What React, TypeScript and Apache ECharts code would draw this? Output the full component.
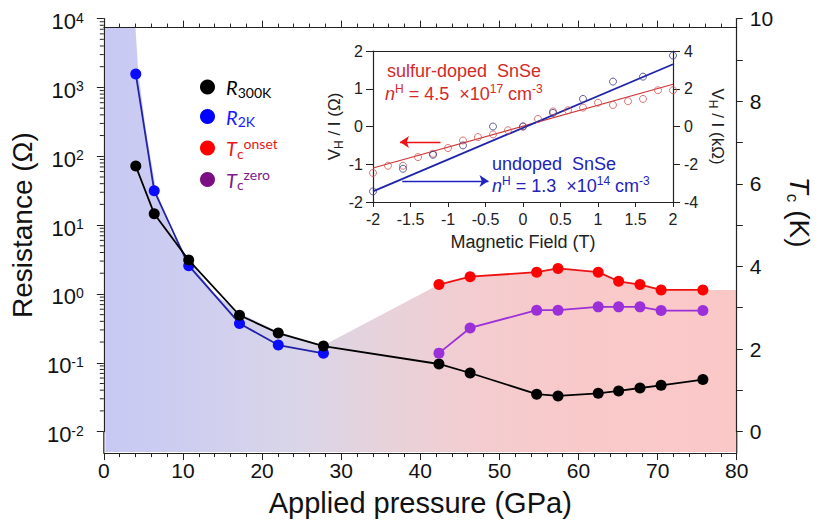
import React, { useEffect, useRef } from "react";
import * as echarts from "echarts";

// ---------- main panel data ----------
const pressure = [4.04, 6.37, 10.73, 17.15, 22.05, 27.76, 42.36, 46.3, 54.71, 57.41, 62.49, 65.07, 67.77, 70.44, 75.72];
const r300K = [72, 14.6, 3.1, 0.49, 0.27, 0.175, 0.096, 0.071, 0.035, 0.033, 0.036, 0.039, 0.043, 0.047, 0.057];
const r2KPressure = [4.04, 6.37, 10.73, 17.15, 22.05, 27.76];
const r2K = [1570, 31.6, 2.57, 0.373, 0.181, 0.137];
const tcPressure = [42.36, 46.3, 54.71, 57.41, 62.49, 65.07, 67.77, 70.44, 75.72];
const tcOnset = [3.56, 3.75, 3.86, 3.95, 3.86, 3.64, 3.56, 3.43, 3.43];
const tcZero = [1.9, 2.51, 2.94, 2.94, 3.02, 3.02, 3.02, 2.93, 2.93];

// phase-region boundary (insulator/metal part, in Ω) and superconducting dome end (in K)
const insulatorEdge: [number, number][] = [
  [0.2, 7400], [4.0, 7400], [4.35, 1700], [5.3, 250], [6.6, 33], [8.5, 8], [10.9, 2.9],
  [14, 1.0], [17.3, 0.52], [22.1, 0.28], [27.8, 0.18],
];
const domeEnd = [80, 3.43];

const xTicks = [0, 80, 10];
const logMinorTicks: number[] = [];
for (let e = -2; e < 4; e++) for (let m = 2; m <= 9; m++) logMinorTicks.push(m * Math.pow(10, e));

// ---------- inset data ----------
const fieldSulfur = [-2, -1.8, -1.6, -1.4, -1.2, -1, -0.8, -0.6, -0.4, -0.2, 0, 0.2, 0.4, 0.6, 0.8, 1, 1.2, 1.4, 1.6, 1.8, 2];
const vhSulfur = [-1.23, -1.04, -1.04, -0.81, -0.72, -0.57, -0.37, -0.28, -0.21, -0.1, 0, 0.2, 0.4, 0.43, 0.5, 0.63, 0.57, 0.67, 0.73, 0.96, 0.96];
const fieldUndoped = [-2, -1.6, -1.2, -0.8, -0.4, 0, 0.4, 0.8, 1.2, 1.6, 2];
const vhUndoped = [-3.44, -2.24, -1.5, -1.0, 0, 0, 0.72, 1.46, 2.38, 2.64, 3.76];
const fitSulfur = [[-2, -1.1], [2, 1.12]];
const fitUndoped = [[-2, -3.44], [2, 3.3]];
const arrowSulfur = [[-1.1, -0.41], [-1.64, -0.41]];
const arrowUndoped = [[-1.61, -2.89], [-0.46, -2.89]];

const AXIS_DROP = 21.5;
const tcToOhm = (t: number) => Math.pow(10, -2 + (6 * t) / 10);

const SANS = "'Liberation Sans', Arial, sans-serif";
const CAL = "Lato, 'Open Sans', sans-serif";

export default function App() {
  const ref = useRef<HTMLDivElement>(null);
  useEffect(() => {
    const chart = echarts.init(ref.current!, null, { renderer: "svg" });

    const boundary: number[][] = [
      ...insulatorEdge,
      ...tcPressure.map((p, i) => [p, tcToOhm(tcOnset[i])]),
      [domeEnd[0], tcToOhm(domeEnd[1])],
    ];

    const gradient = new echarts.graphic.LinearGradient(0, 0, 1, 0, [
      { offset: 0, color: "#c8c9f3" },
      { offset: 0.12, color: "#cdcdf1" },
      { offset: 0.3, color: "#d9d5e8" },
      { offset: 0.45, color: "#e8d2da" },
      { offset: 0.6, color: "#f4cccf" },
      { offset: 0.75, color: "#f9c9c9" },
      { offset: 1, color: "#fbc8c8" },
    ]);

    const legendColors: Record<string, string> = {
      R300K: "#000000",
      R2K: "#1a1aff",
      "Tc onset": "#e31a1a",
      "Tc zero": "#7a1a8a",
    };
    const legendRich: any = {};
    Object.keys(legendColors).forEach((k, idx) => {
      const c = legendColors[k];
      legendRich["i" + idx] = { fontFamily: CAL, fontStyle: "italic", fontSize: 20, color: c, lineHeight: 24, padding: [0, 0, 0, 6] };
      legendRich["b" + idx] = { fontFamily: CAL, fontSize: 14, color: c, lineHeight: 13, verticalAlign: "bottom" };
      legendRich["t" + idx] = { fontFamily: CAL, fontSize: 14, color: c, lineHeight: 13, verticalAlign: "top" };
    });
    const legendFormatter = (name: string) => {
      const idx = Object.keys(legendColors).indexOf(name);
      if (name === "R300K") return `{i${idx}|R}{b${idx}|300K}`;
      if (name === "R2K") return `{i${idx}|R}{b${idx}|2K}`;
      if (name === "Tc onset") return `{i${idx}|T}{b${idx}|c}{t${idx}|onset}`;
      return `{i${idx}|T}{b${idx}|c}{t${idx}|zero}`;
    };

    const axisLine = { show: true, onZero: false, lineStyle: { color: "#222", width: 1.2 } };
    const insetText = { fontFamily: SANS, fontSize: 16, color: "#222" };

    const option: any = {
      animation: false,
      backgroundColor: "#ffffff",
      grid: [
        { left: 98.3, top: 18.6, width: 641, height: 413 },
        { left: 373, top: 51, width: 300, height: 151 },
      ],
      legend: {
        orient: "vertical",
        left: 200,
        top: 77,
        padding: 0,
        itemWidth: 15,
        itemHeight: 15,
        itemGap: 7.5,
        icon: "circle",
        selectedMode: false,
        formatter: legendFormatter,
        textStyle: { rich: legendRich },
        data: [
          { name: "R300K", itemStyle: { color: "#000000" } },
          { name: "R2K", itemStyle: { color: "#0000ff" } },
          { name: "Tc onset", itemStyle: { color: "#ff0000" } },
          { name: "Tc zero", itemStyle: { color: "#7a0f84" } },
        ],
      },
      xAxis: [
        {
          type: "value", gridIndex: 0, position: "bottom", offset: AXIS_DROP,
          min: xTicks[0], max: xTicks[1], interval: xTicks[2], z: 5,
          axisLine, axisTick: { show: true, length: 7, lineStyle: { color: "#222" } },
          minorTick: { show: true, splitNumber: 5, length: 4, lineStyle: { color: "#222" } },
          splitLine: { show: false },
          axisLabel: { fontFamily: SANS, fontSize: 21, color: "#111", margin: 7 },
          name: "Applied pressure (GPa)", nameLocation: "middle", nameGap: 35,
          nameTextStyle: { fontFamily: SANS, fontSize: 29, color: "#111" },
        },
        {
          type: "value", gridIndex: 0, position: "top", offset: -9,
          min: xTicks[0], max: xTicks[1], interval: xTicks[2], z: 5,
          axisLine, axisTick: { show: true, length: 7, lineStyle: { color: "#222" } },
          minorTick: { show: true, splitNumber: 5, length: 4, lineStyle: { color: "#222" } },
          splitLine: { show: false }, axisLabel: { show: false },
        },
        {
          type: "value", gridIndex: 1, position: "bottom", min: -2, max: 2, interval: 0.5,
          axisLine, axisTick: { show: true, length: 5, lineStyle: { color: "#222" } },
          splitLine: { show: false },
          axisLabel: { ...insetText, margin: 9, formatter: (v: number) => String(v) },
          name: "Magnetic Field (T)", nameLocation: "middle", nameGap: 31,
          nameTextStyle: { fontFamily: SANS, fontSize: 18, color: "#222" },
        },
        {
          type: "value", gridIndex: 1, position: "top", min: -2, max: 2,
          axisLine, axisTick: { show: false }, splitLine: { show: false }, axisLabel: { show: false },
        },
      ],
      yAxis: [
        {
          type: "log", logBase: 10, gridIndex: 0, position: "left", min: 0.01, max: 10000, splitNumber: 6, z: 5,
          axisLine, axisTick: { show: true, length: 7, lineStyle: { color: "#222" } },
          splitLine: { show: false },
          axisLabel: {
            margin: 20,
            padding: [6, 0, 0, 0],
            formatter: (v: number) => {
              const e = Math.round(Math.log10(v));
              if (Math.abs(Math.log10(v) - e) > 1e-6) return "";
              return `{b|10}{s|${e}}`;
            },
            rich: {
              b: { fontFamily: SANS, fontSize: 22, color: "#111", lineHeight: 22 },
              s: { fontFamily: SANS, fontSize: 14, color: "#111", lineHeight: 12, verticalAlign: "top" },
            },
          },
          name: "Resistance (Ω)", nameLocation: "middle", nameGap: 56,
          nameTextStyle: { fontFamily: SANS, fontSize: 28, color: "#111" },
        },
        {
          type: "value", gridIndex: 0, position: "right", min: 0, max: 10, interval: 2, z: 5,
          axisLine, axisTick: { show: true, length: 6, lineStyle: { color: "#222" } },
          minorTick: { show: true, splitNumber: 2, length: 6, lineStyle: { color: "#222" } },
          splitLine: { show: false },
          axisLabel: { fontFamily: SANS, fontSize: 21, color: "#111", margin: 13 },
          name: "{it|T}{sub|c}{n| (K)}", nameLocation: "middle", nameGap: 46, nameRotate: -90,
          nameTextStyle: {
            padding: [0, 26, 0, 0],
            rich: {
              it: { fontFamily: SANS, fontSize: 28, fontStyle: "italic", color: "#111", lineHeight: 30 },
              sub: { fontFamily: SANS, fontSize: 17, color: "#111", lineHeight: 17, verticalAlign: "bottom" },
              n: { fontFamily: SANS, fontSize: 28, color: "#111", lineHeight: 30 },
            },
          },
        },
        {
          type: "value", gridIndex: 1, position: "left", min: -2, max: 2, interval: 1,
          axisLine, axisTick: { show: true, length: 7, lineStyle: { color: "#222" } },
          splitLine: { show: false }, axisLabel: { ...insetText, margin: 10 },
          name: "{t|V}{s|H}{t| / I (Ω)}", nameLocation: "middle", nameGap: 24,
          nameTextStyle: {
            rich: {
              t: { fontFamily: SANS, fontSize: 17, color: "#222", lineHeight: 20 },
              s: { fontFamily: SANS, fontSize: 12, color: "#222", lineHeight: 11, verticalAlign: "bottom" },
            },
          },
        },
        {
          type: "value", gridIndex: 1, position: "right", min: -4, max: 4, interval: 2,
          axisLine, axisTick: { show: true, length: 7, lineStyle: { color: "#222" } },
          splitLine: { show: false }, axisLabel: { ...insetText, margin: 11 },
          name: "{t|V}{s|H}{t| / I (kΩ)}", nameLocation: "middle", nameGap: 34, nameRotate: -90,
          nameTextStyle: {
            rich: {
              t: { fontFamily: SANS, fontSize: 17, color: "#222", lineHeight: 20 },
              s: { fontFamily: SANS, fontSize: 12, color: "#222", lineHeight: 11, verticalAlign: "bottom" },
            },
          },
        },
      ],
      graphic: [
        { type: "text", x: 105, y: 296, style: { text: "Insulator", fontFamily: CAL, fontSize: 20, fill: "#333", verticalAlign: "middle" } },
        { type: "text", x: 250, y: 396, style: { text: "metal", fontFamily: CAL, fontSize: 20, fill: "#333", verticalAlign: "middle" } },
        { type: "text", x: 498, y: 349, style: { text: "Superconductor", fontFamily: CAL, fontSize: 20, fontWeight: "bold", fill: "#222", verticalAlign: "middle" } },
        { type: "text", x: 387, y: 71, style: { text: "sulfur-doped  SnSe", fontFamily: SANS, fontSize: 18, fill: "#d42a2a", verticalAlign: "middle" } },
        {
          type: "text", x: 385, y: 94,
          style: {
            text: "{ni|n}{sp|H}{t| = 4.5  ×10}{sp|17}{t| cm}{sp|-3}", verticalAlign: "middle",
            rich: {
              ni: { fontFamily: SANS, fontSize: 18, fontStyle: "italic", fill: "#d42a2a", lineHeight: 22 },
              t: { fontFamily: SANS, fontSize: 18, fill: "#d42a2a", lineHeight: 22 },
              sp: { fontFamily: SANS, fontSize: 12, fill: "#d42a2a", lineHeight: 12, verticalAlign: "top" },
            },
          },
        },
        { type: "text", x: 492, y: 164, style: { text: "undoped  SnSe", fontFamily: SANS, fontSize: 18, fill: "#2323b8", verticalAlign: "middle" } },
        {
          type: "text", x: 492, y: 186,
          style: {
            text: "{ni|n}{sp|H}{t| = 1.3  ×10}{sp|14}{t| cm}{sp|-3}", verticalAlign: "middle",
            rich: {
              ni: { fontFamily: SANS, fontSize: 18, fontStyle: "italic", fill: "#2323b8", lineHeight: 22 },
              t: { fontFamily: SANS, fontSize: 18, fill: "#2323b8", lineHeight: 22 },
              sp: { fontFamily: SANS, fontSize: 12, fill: "#2323b8", lineHeight: 12, verticalAlign: "top" },
            },
          },
        },
      ],
      series: [
        {
          type: "custom", name: "regions", xAxisIndex: 0, yAxisIndex: 0, z: 1, silent: true, clip: false,
          data: [[0, 1]],
          renderItem: (params: any, api: any) => {
            const pts = boundary.map((p) => api.coord(p));
            const bottom = api.coord([0, 0.01])[1];
            const base = bottom + AXIS_DROP - 1;
            const left = api.coord([0, 0.01]);
            const right = api.coord([80, 0.01]);
            return {
              type: "group",
              children: [
                {
                  type: "polygon",
                  shape: { points: [[pts[0][0], base], ...pts, [pts[pts.length - 1][0], base]] },
                  style: { fill: gradient },
                },
                { type: "line", shape: { x1: left[0], y1: bottom, x2: left[0], y2: bottom + AXIS_DROP }, style: { stroke: "#222", lineWidth: 1.2 } },
                { type: "line", shape: { x1: right[0], y1: bottom, x2: right[0], y2: bottom + AXIS_DROP }, style: { stroke: "#222", lineWidth: 1.2 } },
              ],
            };
          },
        },
        {
          type: "custom", name: "logMinor", xAxisIndex: 0, yAxisIndex: 0, z: 6, silent: true, clip: false,
          data: logMinorTicks.map((v) => [0, v]),
          renderItem: (params: any, api: any) => {
            const p = api.coord([api.value(0), api.value(1)]);
            return { type: "line", shape: { x1: p[0] - 4, y1: p[1], x2: p[0], y2: p[1] }, style: { stroke: "#222", lineWidth: 1 } };
          },
        },
        {
          name: "R300K", type: "line", xAxisIndex: 0, yAxisIndex: 0, z: 4,
          data: pressure.map((p, i) => [p, r300K[i]]),
          symbol: "circle", symbolSize: 11,
          itemStyle: { color: "#000000" }, lineStyle: { color: "#000000", width: 1.8 },
        },
        {
          name: "R2K", type: "line", xAxisIndex: 0, yAxisIndex: 0, z: 3,
          data: r2KPressure.map((p, i) => [p, r2K[i]]),
          symbol: "circle", symbolSize: 11,
          itemStyle: { color: "#0a0aff" }, lineStyle: { color: "#2222a8", width: 1.8 },
        },
        {
          name: "Tc onset", type: "line", xAxisIndex: 0, yAxisIndex: 1, z: 4,
          data: tcPressure.map((p, i) => [p, tcOnset[i]]),
          symbol: "circle", symbolSize: 11,
          itemStyle: { color: "#ff0000" }, lineStyle: { color: "#ee1111", width: 1.8 },
        },
        {
          name: "Tc zero", type: "line", xAxisIndex: 0, yAxisIndex: 1, z: 4,
          data: tcPressure.map((p, i) => [p, tcZero[i]]),
          symbol: "circle", symbolSize: 11,
          itemStyle: { color: "#9b30d9" }, lineStyle: { color: "#9b30d9", width: 1.8 },
        },
        {
          name: "fitSulfur", type: "line", xAxisIndex: 2, yAxisIndex: 2, z: 3,
          data: fitSulfur, symbol: "none", lineStyle: { color: "#d03535", width: 1.2 },
          markLine: {
            silent: true, symbol: ["none", "arrow"], symbolSize: 9,
            label: { show: false }, lineStyle: { color: "#ee1111", width: 1.3, type: "solid" },
            data: [[{ coord: arrowSulfur[0] }, { coord: arrowSulfur[1] }]],
          },
        },
        {
          name: "fitUndoped", type: "line", xAxisIndex: 2, yAxisIndex: 3, z: 3,
          data: fitUndoped, symbol: "none", lineStyle: { color: "#1f24a8", width: 1.8 },
          markLine: {
            silent: true, symbol: ["none", "arrow"], symbolSize: 9,
            label: { show: false }, lineStyle: { color: "#1f24c0", width: 1.3, type: "solid" },
            data: [[{ coord: arrowUndoped[0] }, { coord: arrowUndoped[1] }]],
          },
        },
        {
          name: "sulfur", type: "scatter", xAxisIndex: 2, yAxisIndex: 2, z: 4,
          data: fieldSulfur.map((b, i) => [b, vhSulfur[i]]),
          symbol: "circle", symbolSize: 7,
          itemStyle: { color: "rgba(255,255,255,0)", borderColor: "#d05555", borderWidth: 1 },
        },
        {
          name: "undoped", type: "scatter", xAxisIndex: 2, yAxisIndex: 3, z: 4,
          data: fieldUndoped.map((b, i) => [b, vhUndoped[i]]),
          symbol: "circle", symbolSize: 7,
          itemStyle: { color: "rgba(255,255,255,0)", borderColor: "#3a3a8a", borderWidth: 1 },
        },
      ],
    };

    chart.setOption(option);
    return () => chart.dispose();
  }, []);

  return <div ref={ref} style={{ position: "fixed", left: 0, top: 0, width: 821, height: 523 }} />;
}
